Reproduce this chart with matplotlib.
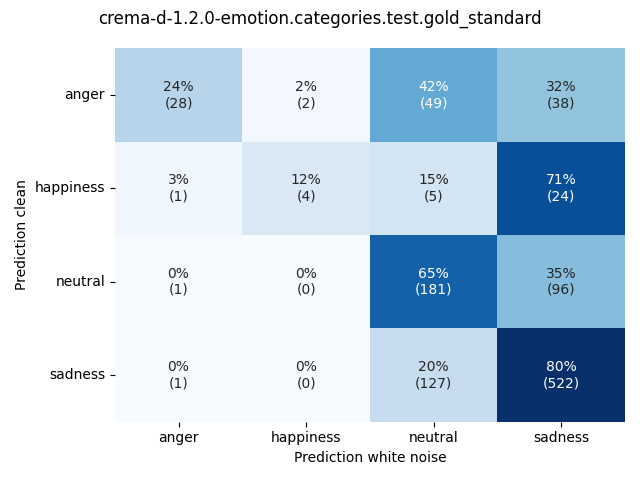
import matplotlib
matplotlib.use("Agg")
import matplotlib.pyplot as plt
import numpy as np
import seaborn as sns

labels = ["anger", "happiness", "neutral", "sadness"]
counts = np.array([
    [28, 2, 49, 38],
    [1, 4, 5, 24],
    [1, 0, 181, 96],
    [1, 0, 127, 522],
])

pct = counts / counts.sum(axis=1, keepdims=True) * 100
annot = [[f"{pct[i, j]:.0f}%\n({counts[i, j]})" for j in range(4)] for i in range(4)]

fig, ax = plt.subplots(figsize=(6.4, 4.8), dpi=100)
sns.heatmap(pct, annot=annot, fmt="", cmap="Blues", cbar=False,
            xticklabels=labels, yticklabels=labels, ax=ax)
ax.set_yticklabels(labels, rotation=0)
ax.set_xlabel("Prediction white noise")
ax.set_ylabel("Prediction clean")
fig.suptitle("crema-d-1.2.0-emotion.categories.test.gold_standard")
fig.tight_layout()
fig.savefig("out.png")
